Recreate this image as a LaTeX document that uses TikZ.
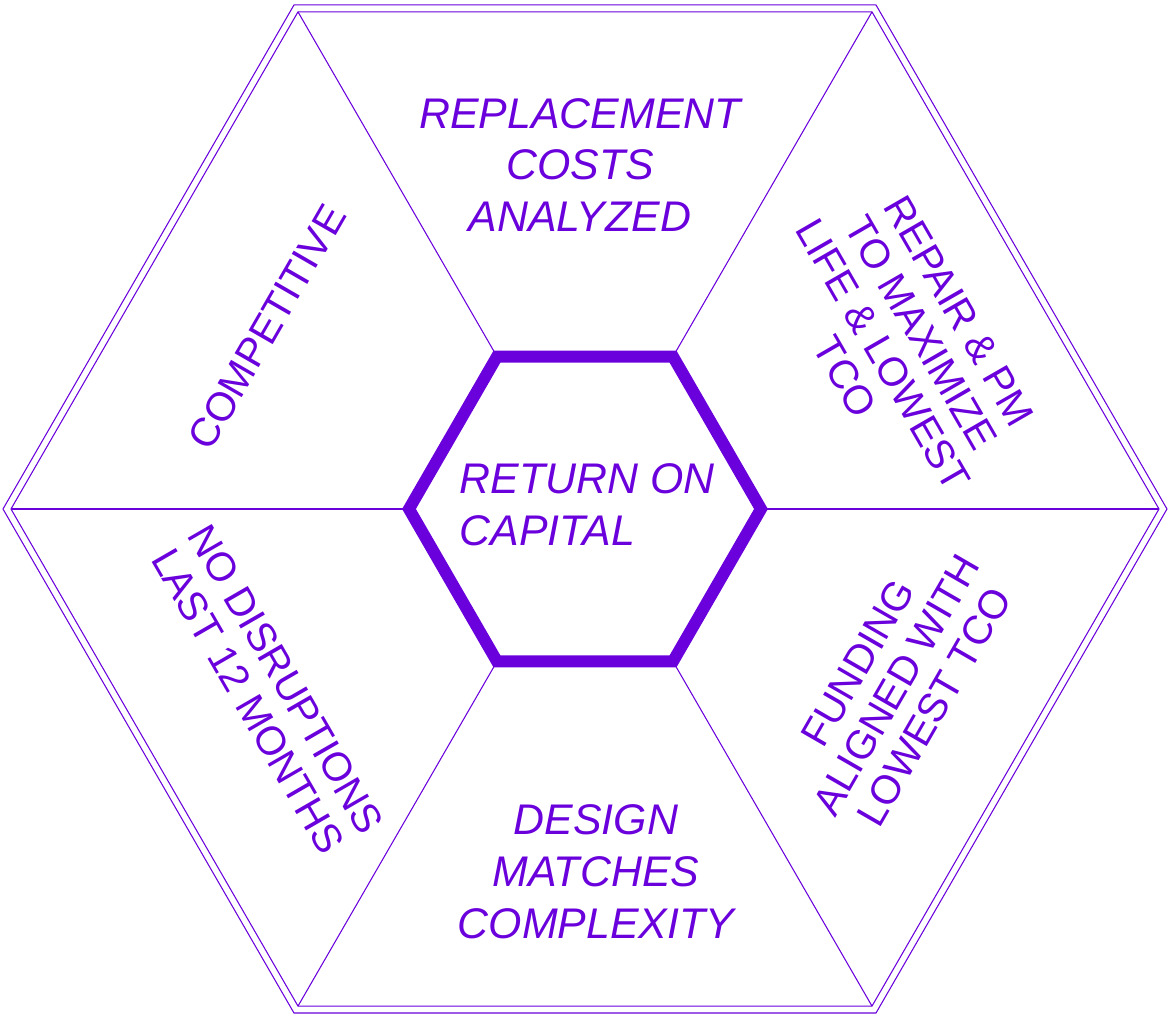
\documentclass[tikz,border=0pt]{standalone}
\usepackage{fontspec}
\setmainfont{Liberation Sans}
\definecolor{roc}{RGB}{106,0,220}

\begin{document}
\begin{tikzpicture}[x=0.02cm, y=0.02cm,
  rim/.style={draw=roc, line width=0.6pt},
  core/.style={draw=roc, line width=6.8pt, line join=miter},
  midtext/.style={text=roc, font=\fontsize{24.4}{29.5}\selectfont\itshape, align=center, inner sep=0pt},
  slanttext/.style={text=roc, font=\fontsize{23}{25}\selectfont, align=center, inner sep=0pt}]
\useasboundingbox (-585,-507) rectangle (585,509);
% outer double rim
\draw[rim] (0:582) -- (60:582) -- (120:582) -- (180:582) -- (240:582) -- (300:582) -- cycle;
\coordinate (o1) at (0:574);
\coordinate (o2) at (60:574);
\coordinate (o3) at (120:574);
\coordinate (o4) at (180:574);
\coordinate (o5) at (240:574);
\coordinate (o6) at (300:574);
\draw[rim] (o1) -- (o2) -- (o3) -- (o4) -- (o5) -- (o6) -- cycle;
% hub corners
\coordinate (i1) at (0:176);
\coordinate (i2) at (60:176);
\coordinate (i3) at (120:176);
\coordinate (i4) at (180:176);
\coordinate (i5) at (240:176);
\coordinate (i6) at (300:176);
\draw[rim] (i1) -- (o1);
\draw[rim] (i2) -- (o2);
\draw[rim] (i3) -- (o3);
\draw[rim] (i4) -- (o4);
\draw[rim] (i5) -- (o5);
\draw[rim] (i6) -- (o6);
\draw[core] (i1) -- (i2) -- (i3) -- (i4) -- (i5) -- (i6) -- cycle;
% segment texts
\node[midtext, align=left] (hub) at (2,4) {RETURN ON\\CAPITAL};
\node[midtext] (replace) at (-5,344) {REPLACEMENT\\COSTS\\ANALYZED};
\node[midtext] (design) at (11,-363) {DESIGN\\MATCHES\\COMPLEXITY};
\node[slanttext, rotate=-60] (repair) at (317,165) {REPAIR \& PM\\TO MAXIMIZE\\LIFE \& LOWEST\\TCO};
\node[slanttext, rotate=60] (funding) at (311,-176) {FUNDING\\ALIGNED WITH\\LOWEST TCO};
\node[slanttext, rotate=-60] (disrupt) at (-318,-181) {NO DISRUPTIONS\\LAST 12 MONTHS};
\node[slanttext, rotate=60] (compete) at (-318,182) {COMPETITIVE};
\end{tikzpicture}
\end{document}
